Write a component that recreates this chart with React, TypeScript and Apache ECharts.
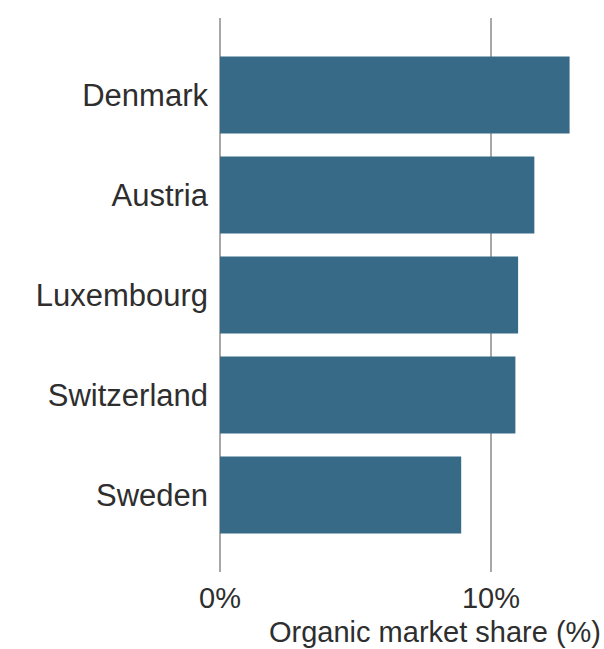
import React, { useEffect, useRef } from "react";
import * as echarts from "echarts";

const countries = ["Denmark", "Austria", "Luxembourg", "Switzerland", "Sweden"];
const shares = [12.9, 11.6, 11.0, 10.9, 8.9];
const axisMin = 0;
const axisMax = 14;
const axisStep = 10;
const xTitle = "Organic market share (%)";

const FONT = "'Liberation Sans', Arial, sans-serif";
const TEXT = "#2e2e2e";

export default function App() {
  const ref = useRef<HTMLDivElement>(null);
  useEffect(() => {
    if (!ref.current) return;
    const chart = echarts.init(ref.current, undefined, { renderer: "svg" });
    chart.setOption({
      animation: false,
      backgroundColor: "#ffffff",
      textStyle: { fontFamily: FONT },
      grid: [
        { left: 220, top: 45, width: 379.4, height: 500 },
        { left: 220, top: 18, width: 379.4, height: 554 },
      ],
      xAxis: [
        {
          gridIndex: 0,
          type: "value",
          min: axisMin,
          max: axisMax,
          interval: axisStep,
          show: false,
        },
        {
          gridIndex: 1,
          type: "value",
          min: axisMin,
          max: axisMax,
          interval: axisStep,
          axisLine: { show: false },
          axisTick: { show: false },
          splitLine: {
            show: true,
            showMaxLine: false,
            lineStyle: { color: "#a8a8a8", width: 2 },
          },
          axisLabel: {
            formatter: (v: number) => (v % axisStep === 0 ? v + "%" : ""),
            showMaxLabel: false,
            fontSize: 29,
            color: TEXT,
            fontFamily: FONT,
            margin: 11,
          },
        },
      ],
      yAxis: [
        {
          gridIndex: 0,
          type: "category",
          data: countries,
          inverse: true,
          axisLine: { show: false },
          axisTick: { show: false },
          splitLine: { show: false },
          axisLabel: {
            fontSize: 31,
            color: TEXT,
            fontFamily: FONT,
            margin: 12,
          },
        },
        { gridIndex: 1, type: "value", show: false },
      ],
      graphic: [
        {
          type: "text",
          right: 3,
          top: 617,
          style: {
            text: xTitle,
            fontSize: 29,
            fill: TEXT,
            fontFamily: FONT,
          },
        },
      ],
      series: [
        {
          type: "bar",
          xAxisIndex: 0,
          yAxisIndex: 0,
          data: shares,
          barWidth: 77,
          itemStyle: { color: "#376a87" },
          z: 3,
        },
      ],
    });
    return () => chart.dispose();
  }, []);
  return (
    <div
      ref={ref}
      style={{ position: "absolute", left: 0, top: 0, width: 604, height: 649, background: "#fff" }}
    />
  );
}
